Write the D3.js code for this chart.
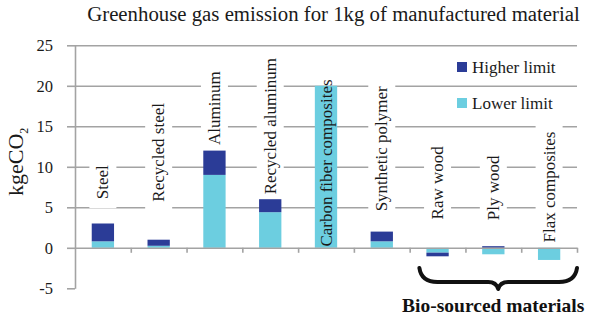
<!DOCTYPE html>
<html><head><meta charset="utf-8">
<script src="https://cdn.jsdelivr.net/npm/d3@7"></script>
</head>
<body style="margin:0"><svg id="c" width="600" height="329"></svg>
<script>
const categories = ["Steel","Recycled steel","Aluminum","Recycled aluminum","Carbon fiber composites","Synthetic polymer","Raw wood","Ply wood","Flax composites"];
const lowerLimit = [0.8, 0.25, 9, 4.4, 20, 0.8, -0.6, -0.8, -1.5];
const higherLimit = [2.2, 0.75, 3, 1.6, 0, 1.2, -0.45, 0.2, 0];
const labelBase = [6, 5.7, 12.7, 6.6, 0.15, 4.5, 3.5, 3.4, 0.65];
const yTicks = [-5, 0, 5, 10, 15, 20, 25];
const seriesNames = ["Lower limit", "Higher limit"];
const colors = {"Higher limit":"#2b3c97", "Lower limit":"#6ccee0"};
const title = "Greenhouse gas emission for 1kg of manufactured material";
const groupLabel = "Bio-sourced materials";
const bioCategories = ["Raw wood","Ply wood","Flax composites"];

const FONT = "Liberation Serif";
const svg = d3.select("#c");
const L = 75, R = 577, T = 45.3, B = 288.3;
const grid = "#a3a3a3";
const ink = "#1a1a1a";

const y = d3.scaleLinear().domain([-5, 25]).range([B, T]);
const x = d3.scaleBand().domain(categories).range([L, R]).paddingInner(0.6).paddingOuter(0.3);

const rows = categories.map((c,i)=>({cat:c, "Lower limit":lowerLimit[i], "Higher limit":higherLimit[i]}));
const stack = d3.stack().keys(seriesNames).offset(d3.stackOffsetDiverging)(rows);

// title
svg.append("text").attr("x", 333.5).attr("y", 21).attr("text-anchor","middle")
  .attr("font-family", FONT).attr("font-size", 20.8).attr("fill", ink).text(title);

// gridlines
svg.append("g").attr("transform", `translate(${L},0)`)
  .call(d3.axisLeft(y).tickValues(yTicks.filter(v=>v>0)).tickSize(-(R-L)).tickFormat(""))
  .call(g=>g.select(".domain").remove())
  .call(g=>g.selectAll("line").attr("stroke", grid).attr("stroke-width", 1.6));

const boxes = svg.append("g");

// y axis
svg.append("g").attr("transform", `translate(${L},0)`)
  .call(d3.axisLeft(y).tickValues(yTicks).tickSize(8).tickPadding(14).tickSizeOuter(0).tickFormat(d=>String(d)))
  .attr("font-family", FONT)
  .call(g=>g.select(".domain").attr("stroke", grid).attr("stroke-width", 1.6))
  .call(g=>g.selectAll("line").attr("stroke", grid).attr("stroke-width", 1.6))
  .call(g=>g.selectAll("text").attr("font-size", 16.5).attr("fill", ink).attr("font-family", FONT));

// bars
svg.append("g").selectAll("g").data(stack).join("g")
  .attr("fill", d=>colors[d.key])
  .selectAll("rect").data(d=>d).join("rect")
  .attr("x", d=>x(d.data.cat)).attr("width", x.bandwidth())
  .attr("y", d=>y(Math.max(d[0],d[1]))).attr("height", d=>Math.abs(y(d[0])-y(d[1])));

// x axis at zero
const xi = d3.scaleLinear().domain([0, categories.length]).range([L, R]);
svg.append("g").attr("transform", `translate(0,${y(0)})`)
  .call(d3.axisBottom(xi).tickValues(d3.range(1, categories.length+1)).tickSize(5).tickSizeOuter(0).tickFormat(""))
  .call(g=>g.select(".domain").attr("stroke", grid).attr("stroke-width", 1.6))
  .call(g=>g.selectAll("line").attr("stroke", grid).attr("stroke-width", 1.6));

// category labels with white boxes hiding gridlines (length estimated from character count)
const labels = svg.append("g");
categories.forEach((c,i)=>{
  const cx = x(c) + x.bandwidth()/2;
  const y0 = y(labelBase[i]);
  labels.append("text")
    .attr("transform", `translate(${cx},${y0}) rotate(-90)`)
    .attr("dominant-baseline","central")
    .attr("font-family", FONT).attr("font-size", 17).attr("fill", ink).text(c);
  const len = c.length * 17 * 0.43;
  const barTop = lowerLimit[i] + Math.max(0, higherLimit[i]);
  if (labelBase[i] > barTop) {
    boxes.append("rect").attr("x", cx-13.5).attr("width", 27)
      .attr("y", y0 - len - 12).attr("height", len + 21).attr("fill", "#fff");
  }
});

// y axis title
const yt = svg.append("text").attr("transform", "translate(23,196) rotate(-90)")
  .attr("font-family", FONT).attr("font-size", 22).attr("fill", ink);
yt.append("tspan").text("kgeCO");
yt.append("tspan").attr("font-size", 12).attr("dy", 5).text("2");

// legend
const legendKeys = ["Higher limit","Lower limit"];
legendKeys.forEach((k,i)=>{
  const ly = 67 + i*36;
  svg.append("rect").attr("x", 457).attr("y", ly-5).attr("width", 10).attr("height", 10).attr("fill", colors[k]);
  svg.append("text").attr("x", 472).attr("y", ly+5.5).attr("font-family", FONT)
    .attr("font-size", 17).attr("fill", ink).text(k);
});

// brace for bio-sourced
const bx0 = x(bioCategories[0]) - 7, bx1 = R;
const bm = (bx0+bx1)/2, bTop = 268, bMid = 282, bTip = 289;
const p = d3.path();
p.moveTo(bx0, bTop);
p.quadraticCurveTo(bx0+2, bMid, bx0+18, bMid);
p.lineTo(bm-10, bMid);
p.quadraticCurveTo(bm-2, bMid, bm, bTip);
p.quadraticCurveTo(bm+2, bMid, bm+10, bMid);
p.lineTo(bx1-18, bMid);
p.quadraticCurveTo(bx1-2, bMid, bx1, bTop);
svg.append("path").attr("d", p.toString()).attr("fill","none").attr("stroke","#111")
  .attr("stroke-width", 4).attr("stroke-linecap","round").attr("stroke-linejoin","round");
svg.append("text").attr("x", bm-5).attr("y", 312).attr("text-anchor","middle")
  .attr("font-family", FONT).attr("font-size", 19.5).attr("font-weight","bold").attr("fill", "#111").text(groupLabel);
</script></body></html>
